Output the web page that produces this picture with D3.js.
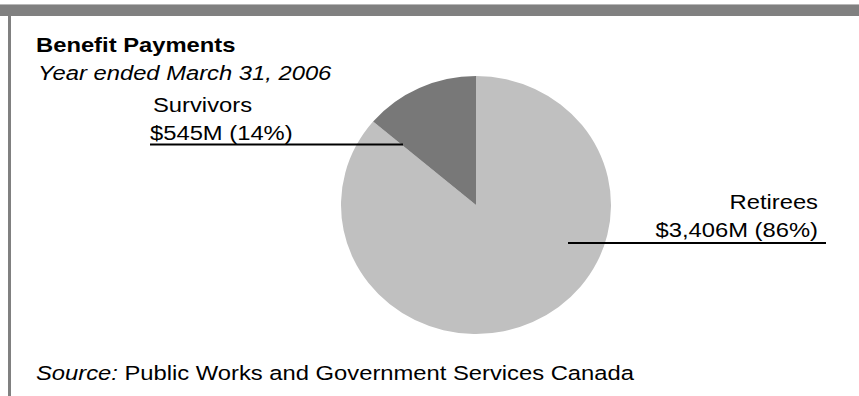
<!DOCTYPE html>
<html>
<head>
<meta charset="utf-8">
<script src="https://cdn.jsdelivr.net/npm/d3@7"></script>
<style>
  html, body { margin: 0; padding: 0; background: #fff; }
  svg { display: block; }
  text { font-family: "Liberation Sans", Arial, Helvetica, sans-serif; fill: #000; }
</style>
</head>
<body>
<svg id="chart" width="859" height="396"></svg>
<script>
// ---- data ----
const categories = ["Retirees", "Survivors"];
const values = [3406, 545];
const valueLabels = ["$3,406M (86%)", "$545M (14%)"];
const colors = ["#c0c0c0", "#787878"];
const title = "Benefit Payments";
const subtitle = "Year ended March 31, 2006";
const sourceLabel = "Source:";
const sourceText = " Public Works and Government Services Canada";

// ---- layout ----
const W = 859, H = 396;
const cx = 476, cy = 205, rx = 135, ry = 129;
const fs = 20.5, sx = 1.16;

const svg = d3.select("#chart");

// frame
svg.append("rect").attr("x", 0).attr("y", 4).attr("width", W).attr("height", 1).attr("fill", "#b8b8b8");
svg.append("rect").attr("x", 0).attr("y", 5).attr("width", W).attr("height", 11).attr("fill", "#808080");
svg.append("rect").attr("x", 8).attr("y", 16).attr("width", 3).attr("height", H - 16).attr("fill", "#808080");

function addText(x, y, str, opts = {}) {
  const t = svg.append("text")
    .attr("transform", `translate(${x},${y}) scale(${sx},1)`)
    .attr("font-size", fs)
    .attr("text-anchor", opts.anchor || "start");
  if (opts.weight) t.attr("font-weight", opts.weight);
  if (opts.style) t.attr("font-style", opts.style);
  return t.text(str);
}

// titles
addText(36, 52, title, { weight: "bold" });
addText(38, 80, subtitle, { style: "italic" });

// pie
const pie = d3.pie().sort(null).value(d => d);
const arcs = pie(values);
const arc = d3.arc().innerRadius(0).outerRadius(rx);
const g = svg.append("g").attr("transform", `translate(${cx},${cy}) scale(1,${ry / rx})`);
g.selectAll("path").data(arcs).join("path")
  .attr("d", arc)
  .attr("fill", (d, i) => colors[i]);

// labels + leader lines
// Survivors (left)
addText(153, 112, categories[1]);
addText(150, 140, valueLabels[1]);
svg.append("line").attr("x1", 150).attr("x2", 403).attr("y1", 144.5).attr("y2", 144.5)
  .attr("stroke", "#000").attr("stroke-width", 2);

// Retirees (right)
addText(818, 209, categories[0], { anchor: "end" });
addText(818, 237, valueLabels[0], { anchor: "end" });
svg.append("line").attr("x1", 568).attr("x2", 826).attr("y1", 243).attr("y2", 243)
  .attr("stroke", "#000").attr("stroke-width", 2);

// source
const st = svg.append("text")
  .attr("transform", `translate(36,380) scale(${sx},1)`)
  .attr("font-size", fs);
st.append("tspan").attr("font-style", "italic").text(sourceLabel);
st.append("tspan").style("white-space", "pre").text(sourceText);
</script>
</body>
</html>
